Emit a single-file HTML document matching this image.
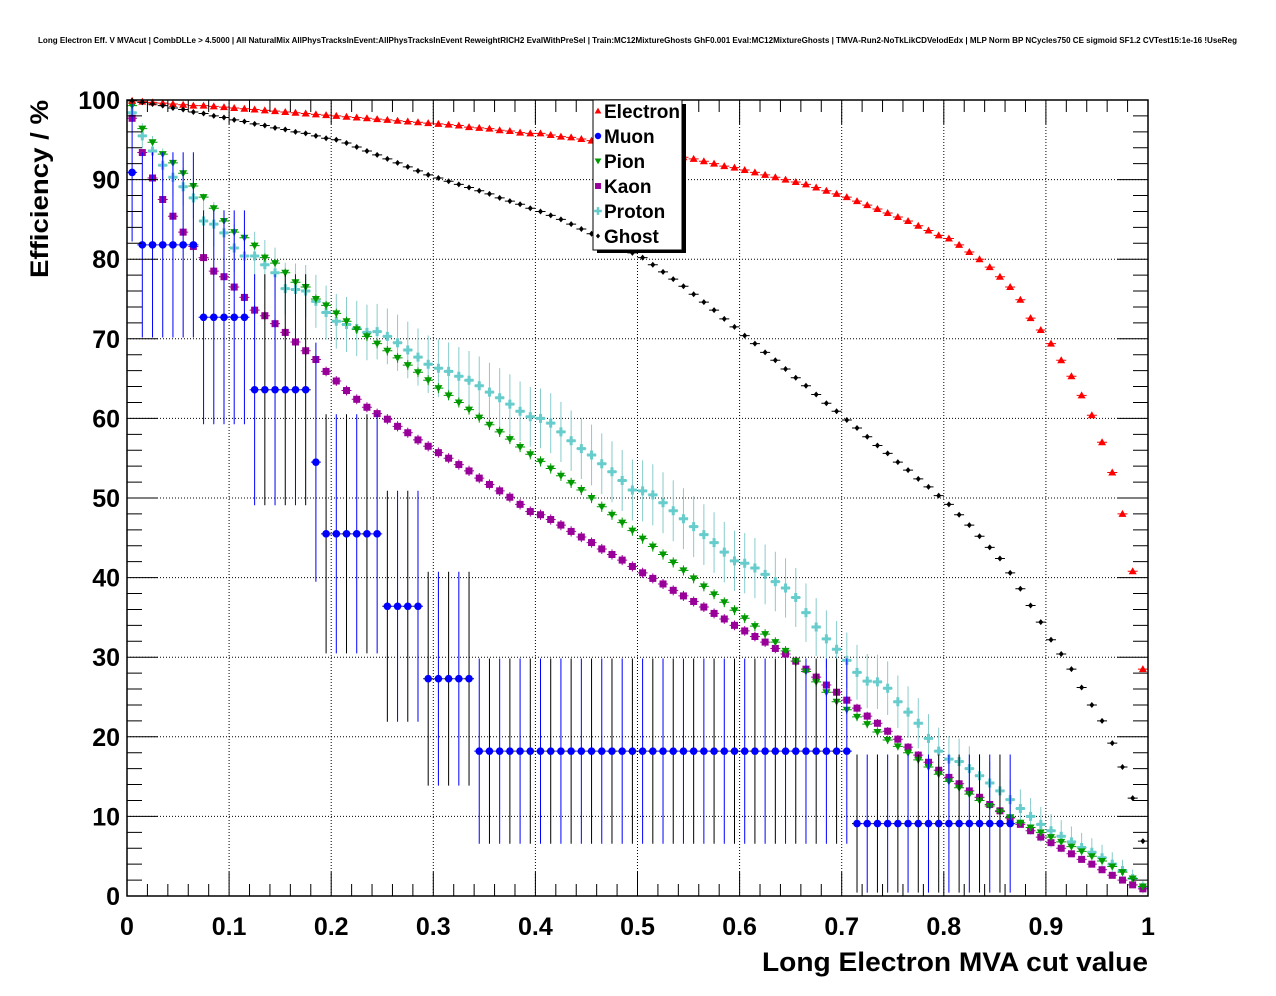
<!DOCTYPE html>
<html><head><meta charset="utf-8"><style>
body{margin:0;background:#fff;}
svg{display:block;font-family:"Liberation Sans",sans-serif;}
</style></head><body>
<svg id="chart" width="1276" height="996" viewBox="0 0 1276 996" xmlns="http://www.w3.org/2000/svg">
<rect width="1276" height="996" fill="#fff"/>
<text x="38" y="43" font-size="8" font-weight="bold" textLength="1199" lengthAdjust="spacingAndGlyphs">Long Electron Eff. V MVAcut | CombDLLe &gt; 4.5000 | All NaturalMix AllPhysTracksInEvent:AllPhysTracksInEvent ReweightRICH2 EvalWithPreSel | Train:MC12MixtureGhosts GhF0.001 Eval:MC12MixtureGhosts | TMVA-Run2-NoTkLikCDVelodEdx | MLP Norm BP NCycles750 CE sigmoid SF1.2 CVTest15:1e-16 !UseReg</text>
<g id="grid"></g>
<g id="series"></g>
<g id="axes"></g>
<text transform="translate(48,278) rotate(-90)" font-size="25" font-weight="bold" textLength="178" lengthAdjust="spacingAndGlyphs">Efficiency / %</text>
<text x="1148" y="971" text-anchor="end" font-size="27" font-weight="bold" textLength="386" lengthAdjust="spacingAndGlyphs">Long Electron MVA cut value</text>
<g id="legend"></g>
</svg>
<script>
const xTicks=[0,0.1,0.2,0.3,0.4,0.5,0.6,0.7,0.8,0.9,1];
const xTickLabels=["0","0.1","0.2","0.3","0.4","0.5","0.6","0.7","0.8","0.9","1"];
const yTicks=[0,10,20,30,40,50,60,70,80,90,100];
const yTickLabels=["0","10","20","30","40","50","60","70","80","90","100"];
const electron=[99.9,99.8,99.7,99.6,99.5,99.4,99.3,99.3,99.2,99.1,99.0,98.9,98.8,98.7,98.6,98.5,98.4,98.3,98.2,98.1,98.0,97.9,97.8,97.7,97.6,97.5,97.4,97.3,97.2,97.1,97.0,96.9,96.8,96.6,96.5,96.4,96.2,96.1,95.9,95.8,95.8,95.6,95.4,95.3,95.1,94.9,94.7,94.5,94.3,94.1,93.9,93.7,93.4,93.1,92.8,92.6,92.3,92.0,91.7,91.5,91.2,90.9,90.6,90.3,90.0,89.7,89.4,89.0,88.6,88.2,87.8,87.3,86.8,86.3,85.8,85.3,84.8,84.2,83.6,83.0,82.6,81.8,80.9,80.0,79.0,77.8,76.5,74.9,72.6,71.1,69.4,67.3,65.3,62.9,60.4,57.0,53.2,48.0,40.8,28.5];
const muon=[90.9,81.8,81.8,81.8,81.8,81.8,81.8,72.7,72.7,72.7,72.7,72.7,63.6,63.6,63.6,63.6,63.6,63.6,54.5,45.5,45.5,45.5,45.5,45.5,45.5,36.4,36.4,36.4,36.4,27.3,27.3,27.3,27.3,27.3,18.2,18.2,18.2,18.2,18.2,18.2,18.2,18.2,18.2,18.2,18.2,18.2,18.2,18.2,18.2,18.2,18.2,18.2,18.2,18.2,18.2,18.2,18.2,18.2,18.2,18.2,18.2,18.2,18.2,18.2,18.2,18.2,18.2,18.2,18.2,18.2,18.2,9.1,9.1,9.1,9.1,9.1,9.1,9.1,9.1,9.1,9.1,9.1,9.1,9.1,9.1,9.1,9.1,null,null,null,null,null,null,null,null,null,null,null,null,null];
const pion=[99.3,96.4,94.7,93.2,92.1,90.8,89.2,87.8,86.4,84.8,83.4,82.7,81.7,80.2,79.5,78.3,77.1,76.5,75.0,74.2,73.2,72.2,71.2,70.3,69.4,68.5,67.6,66.7,65.8,64.8,63.8,62.9,62.0,61.1,60.1,59.2,58.3,57.4,56.4,55.5,54.6,53.7,52.8,51.9,51.0,50.0,48.9,47.9,46.9,45.9,44.9,43.9,42.9,41.9,40.9,39.9,38.9,37.9,36.9,35.9,34.9,33.9,32.9,31.9,30.8,29.5,28.2,26.9,25.6,24.4,23.4,22.5,21.6,20.6,19.6,18.8,18.0,17.1,16.2,15.3,14.4,13.6,12.8,12.0,11.3,10.6,9.9,9.2,8.6,8.0,7.4,6.8,6.2,5.6,5.0,4.4,3.7,3.0,2.2,1.2];
const kaon=[97.7,93.4,90.2,87.5,85.4,83.4,81.6,80.2,78.5,77.8,76.5,75.2,73.6,72.9,71.9,70.8,69.6,68.5,67.4,65.9,64.7,63.5,62.4,61.4,60.6,59.9,59.0,58.2,57.3,56.5,55.7,55.0,54.2,53.4,52.5,51.7,50.9,50.1,49.2,48.3,47.9,47.3,46.6,45.8,45.1,44.4,43.6,42.9,42.2,41.4,40.6,39.9,39.2,38.4,37.7,37.0,36.3,35.5,34.8,34.0,33.3,32.6,31.9,31.1,30.4,29.5,28.5,27.5,26.5,25.6,24.6,23.6,22.6,21.7,20.7,19.7,18.7,17.7,16.8,15.8,14.9,14.1,13.2,12.4,11.5,10.7,9.8,9.0,8.2,7.4,6.7,6.0,5.3,4.6,4.0,3.3,2.6,2.0,1.4,0.9];
const proton=[98.4,95.5,93.6,91.8,90.3,89.1,87.7,84.8,84.4,83.3,81.4,80.4,80.4,79.3,78.3,76.3,76.2,76.0,74.7,73.3,72.2,71.8,71.3,70.8,70.9,70.3,69.5,68.6,67.7,66.8,66.3,65.9,65.3,64.8,64.1,63.3,62.6,61.8,60.9,60.2,60.0,59.4,58.3,57.2,56.2,55.4,54.3,53.3,52.2,51.0,50.9,50.4,49.4,48.4,47.4,46.4,45.4,44.4,43.2,42.1,41.8,41.2,40.4,39.5,38.7,37.5,35.6,33.8,32.3,31.0,29.6,28.1,27.0,26.9,26.1,24.4,23.1,21.7,19.8,18.2,17.2,16.9,16.0,15.1,14.2,13.2,12.1,11.0,10.0,9.0,8.2,7.5,6.8,6.1,5.5,4.8,4.0,3.2,2.2,1.1];
const ghost=[99.9,99.7,99.5,99.3,99.0,98.8,98.5,98.3,98.0,97.8,97.5,97.3,97.0,96.8,96.5,96.3,96.0,95.8,95.5,95.2,95.0,94.6,94.1,93.6,93.1,92.6,92.1,91.6,91.1,90.6,90.2,89.8,89.4,89.0,88.6,88.2,87.7,87.3,86.9,86.4,86.0,85.5,85.0,84.4,83.8,83.2,82.6,82.0,81.4,80.8,80.2,79.3,78.4,77.5,76.6,75.6,74.6,73.6,72.5,71.5,70.4,69.4,68.3,67.3,66.2,65.1,64.1,63.0,61.9,60.9,59.8,58.8,57.7,56.6,55.6,54.5,53.5,52.4,51.4,50.3,49.2,47.9,46.6,45.2,43.8,42.4,40.6,38.6,36.5,34.4,32.2,30.4,28.5,26.2,24.0,22.0,19.2,16.2,12.3,6.9];
const seriesNames=["Electron","Muon","Pion","Kaon","Proton","Ghost"];
const sampleSizes=[20000,11,6000,6000,170,50000];

const NS="http://www.w3.org/2000/svg";
const X0=127,X1=1148,Y0=896,Y1=100;
const xs=v=>X0+(X1-X0)*v;
const ys=v=>Y0-(Y0-Y1)*v/100;
function mk(tag,attrs,parent){const e=document.createElementNS(NS,tag);for(const k in attrs)e.setAttribute(k,attrs[k]);parent.appendChild(e);return e;}
const grid=document.getElementById('grid'),axes=document.getElementById('axes'),ser=document.getElementById('series'),leg=document.getElementById('legend');

xTicks.forEach((t,i)=>{
  if(i>0&&i<xTicks.length-1){const l=mk('line',{x1:xs(t),x2:xs(t),y1:Y1,y2:Y0,stroke:'#000','stroke-width':1,'stroke-dasharray':'1,2'},grid);
  }
  const tx=mk('text',{x:xs(t),y:935,'text-anchor':'middle','font-size':25,'font-weight':'bold'},axes);tx.textContent=xTickLabels[i];
  
});
yTicks.forEach((t,i)=>{
  if(i>0&&i<yTicks.length-1){const l=mk('line',{x1:X0,x2:X1,y1:ys(t),y2:ys(t),stroke:'#000','stroke-width':1,'stroke-dasharray':'1,2'},grid);
  }
  const tx=mk('text',{x:120,y:ys(t)+9,'text-anchor':'end','font-size':25,'font-weight':'bold'},axes);tx.textContent=yTickLabels[i];
  
});
let tp='';
for(let k=0;k<=50;k++){const x=xs(k/50),len=(k%5==0)?24:12;tp+=`M${x},${Y0}v${-len}M${x},${Y1}v${len}`;}
for(let k=0;k<=50;k++){const y=ys(k*2),len=(k%5==0)?31:15;tp+=`M${X0},${y}h${len}M${X1},${y}h${-len}`;}
const tk=mk('path',{d:tp,stroke:'#000','stroke-width':1,fill:'none'},axes);

const fr=mk('rect',{x:X0,y:Y1,width:X1-X0,height:Y0-Y1,fill:'none',stroke:'#000','stroke-width':1.5},axes);


const colors=['#ff0000','#0000ff','#009900','#990099','#66cccc','#000000'];
const data=[electron,muon,pion,kaon,proton,ghost];
function marker(type,x,y,c,parent,s){
  s=s||1;let e;
  if(type==0)e=mk('path',{d:`M${x},${y-4*s}L${x+4*s},${y+3*s}L${x-4*s},${y+3*s}Z`,fill:c},parent);
  else if(type==1)e=mk('circle',{cx:x,cy:y,r:3.8*s,fill:c},parent);
  else if(type==2)e=mk('path',{d:`M${x},${y+4*s}L${x+4*s},${y-3*s}L${x-4*s},${y-3*s}Z`,fill:c},parent);
  else if(type==3)e=mk('rect',{x:x-3.5*s,y:y-3.5*s,width:7*s,height:7*s,fill:c},parent);
  else if(type==4)e=mk('path',{d:`M${x-4.5*s},${y-1.5*s}h${3*s}v${-3*s}h${3*s}v${3*s}h${3*s}v${3*s}h${-3*s}v${3*s}h${-3*s}v${-3*s}h${-3*s}Z`,fill:c},parent);
  else e=mk('path',{d:`M${x},${y-3*s}L${x+2.5*s},${y}L${x},${y+3*s}L${x-2.5*s},${y}Z`,fill:c},parent);
  return e;
}
const order=[4,3,2,1,0,5];
order.forEach(si=>{
  const g=mk('g',{},ser);
  
  
  const arr=data[si],n=sampleSizes[si];
  arr.forEach((v,i)=>{
    if(v===null)return;
    const xc=0.005+0.01*i,x=xs(xc),y=ys(v);
    const p=v/100,err=Math.sqrt(p*(1-p)/n)*100;
    let ec=colors[si];
    if(si==1&&i>=12&&i%2==1)ec='#000';
    if(si==4)ec='#88cccc';
    const eb=mk('path',{d:`M${x},${ys(Math.min(100,v+err))}V${ys(Math.max(0,v-err))}M${x-5},${y}H${x+5}`,stroke:ec,'stroke-width':1,fill:'none'},g);
    
    
    const m=marker(si,x,y,colors[si],g);
    
    
  });
});

const sh=mk('rect',{x:597,y:104,width:89,height:149,fill:'#000'},leg);

const bx=mk('rect',{x:593,y:100,width:89,height:150,fill:'#fff',stroke:'#000','stroke-width':1},leg);

seriesNames.forEach((nm,i)=>{
  const yy=111+25*i;
  const m=marker(i,598,yy,colors[i],leg,0.85);
  
  const t=mk('text',{x:604,y:yy+7,'font-size':19,'font-weight':'bold'},leg);t.textContent=nm;
  
});
</script>
</body></html>
